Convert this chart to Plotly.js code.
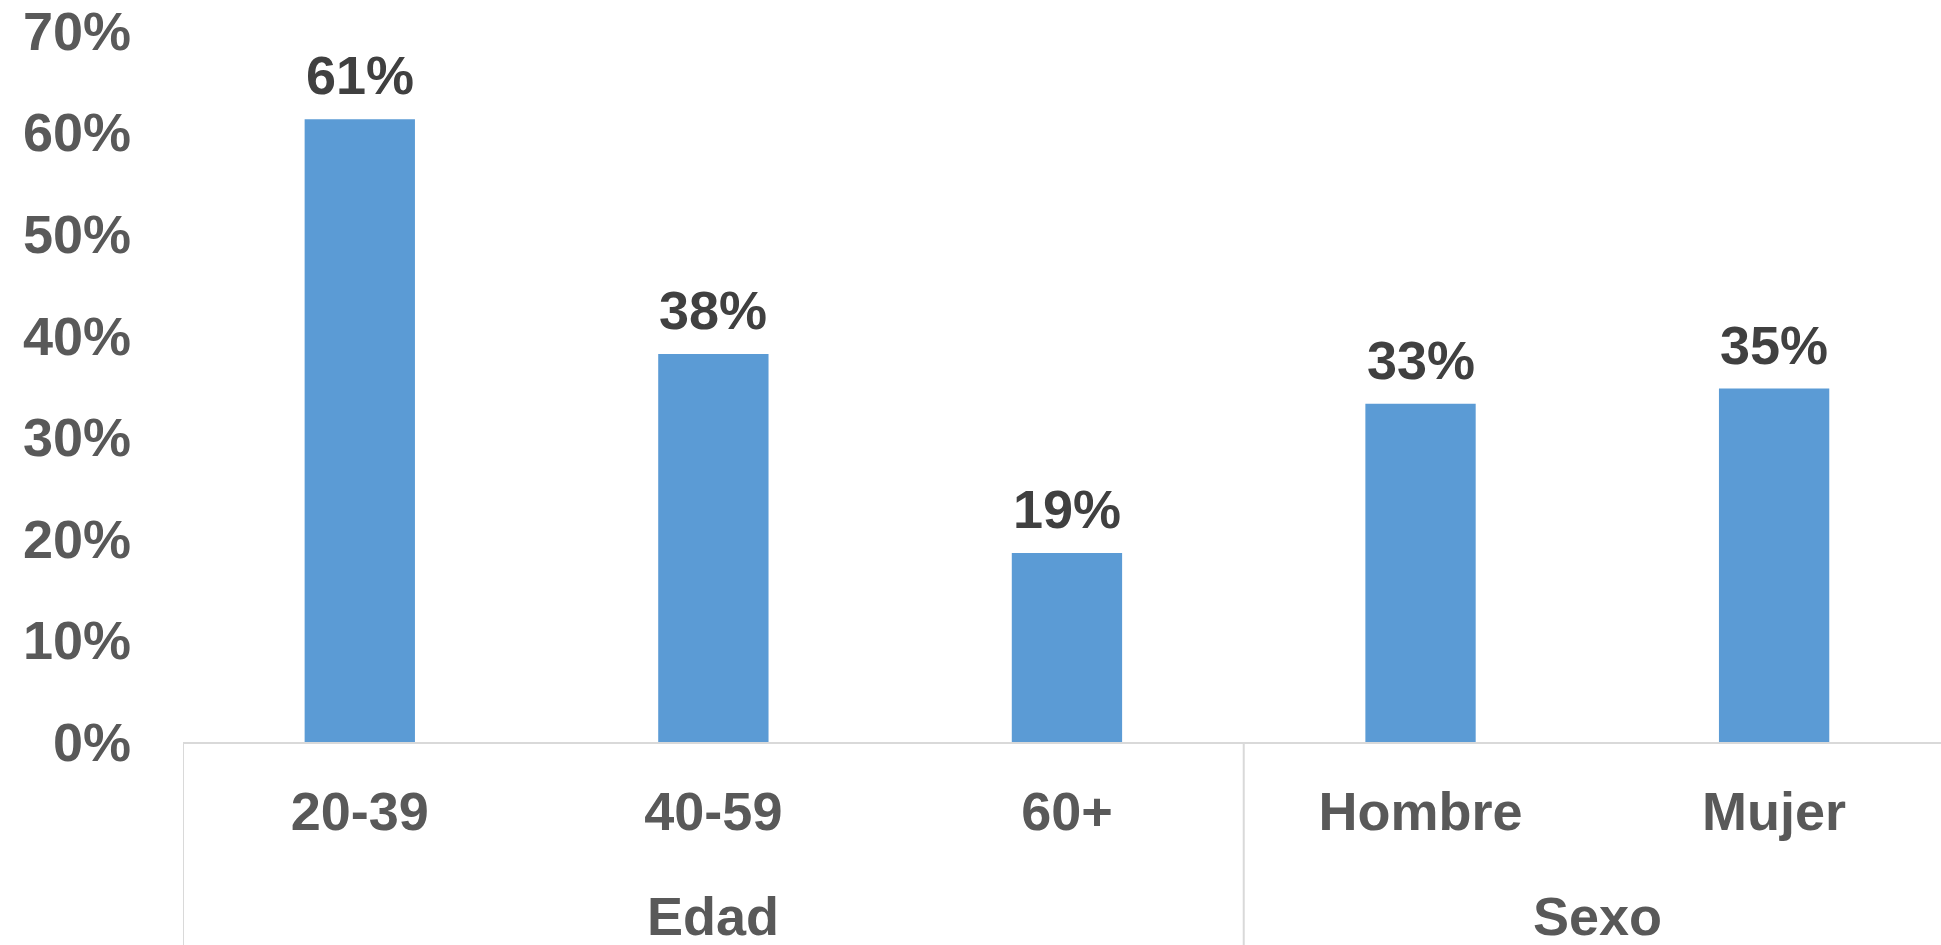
<!DOCTYPE html>
<html>
<head>
<meta charset="utf-8">
<script src="https://cdn.plot.ly/plotly-3.0.1.min.js"></script>
<style>html,body{margin:0;padding:0;background:#fff;}#chart{width:1941px;height:945px;}</style>
</head>
<body>
<div id="chart"></div>
<script>
const groups = ["Edad", "Edad", "Edad", "Sexo", "Sexo"];
const categories = ["20-39", "40-59", "60+", "Hombre", "Mujer"];
const values = [0.613, 0.382, 0.186, 0.333, 0.348];
const labels = ["61%", "38%", "19%", "33%", "35%"];
const yTicks = [0, 0.1, 0.2, 0.3, 0.4, 0.5, 0.6, 0.7];

const FONT = "Liberation Sans, Arial, sans-serif";
const AXIS_GREY = "#d9d9d9";

const trace = {
  type: "bar",
  x: categories,
  y: values,
  width: 0.312,
  marker: {color: "#5b9bd5"},
  hoverinfo: "skip"
};

// value labels above bars
const annotations = values.map((v, i) => ({
  x: categories[i],
  y: v,
  xref: "x",
  yref: "y",
  text: labels[i],
  showarrow: false,
  yanchor: "bottom",
  yshift: 12,
  font: {family: FONT, size: 54, color: "#404040", weight: "bold"}
}));

// group labels and dividers, derived from the groups array
const shapes = [];
const groupNames = [...new Set(groups)];
groupNames.forEach(g => {
  const idx = groups.map((gg, i) => gg === g ? i : -1).filter(i => i >= 0);
  const first = idx[0], last = idx[idx.length - 1];
  annotations.push({
    x: (first + last) / 2,
    y: -0.245,
    xref: "x",
    yref: "paper",
    text: g,
    showarrow: false,
    yanchor: "middle",
    font: {family: FONT, size: 54, color: "#595959", weight: "bold"}
  });
  shapes.push({
    type: "line",
    xref: "x",
    yref: "paper",
    x0: first - 0.5,
    x1: first - 0.5,
    y0: 0,
    y1: -0.3,
    line: {color: AXIS_GREY, width: 2}
  });
});

const layout = {
  width: 1941,
  height: 945,
  margin: {l: 183, r: 0, t: 31, b: 203},
  paper_bgcolor: "#ffffff",
  plot_bgcolor: "#ffffff",
  showlegend: false,
  xaxis: {
    type: "category",
    range: [-0.5, 4.472],
    showline: true,
    linecolor: AXIS_GREY,
    linewidth: 2,
    showgrid: false,
    zeroline: false,
    ticks: "",
    ticklabelstandoff: 21,
    tickfont: {family: FONT, size: 54, color: "#595959", weight: "bold"},
    fixedrange: true
  },
  yaxis: {
    range: [0, 0.7],
    tickvals: yTicks,
    tickformat: ".0%",
    showgrid: false,
    zeroline: false,
    showline: false,
    ticks: "",
    ticklabelstandoff: 51,
    tickfont: {family: FONT, size: 54, color: "#595959", weight: "bold"},
    fixedrange: true
  },
  annotations: annotations,
  shapes: shapes
};

Plotly.newPlot("chart", [trace], layout, {displayModeBar: false, staticPlot: true});
</script>
</body>
</html>
